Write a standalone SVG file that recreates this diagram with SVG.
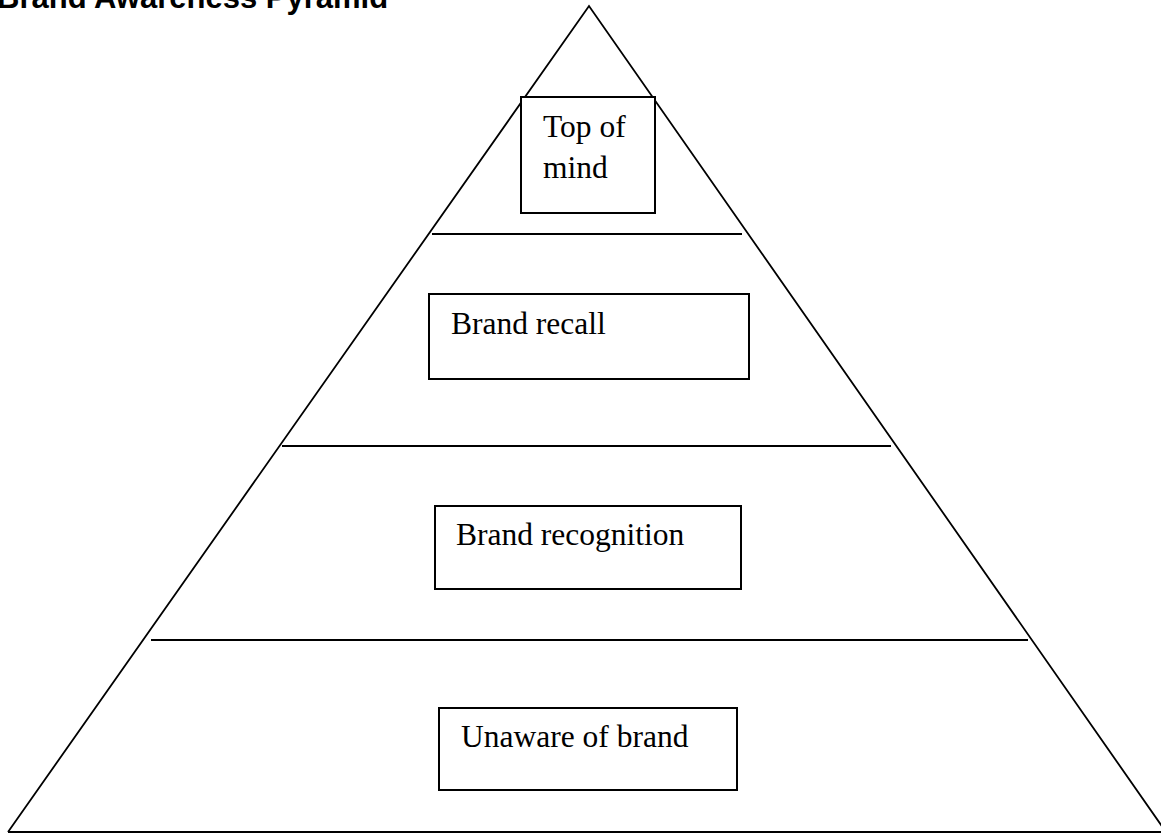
<svg xmlns="http://www.w3.org/2000/svg" width="1161" height="834" viewBox="0 0 1161 834">
<style>
.ln{stroke:#000;stroke-width:1.8;fill:none}
.bx{stroke:#000;stroke-width:2;fill:#fff}
.lb{font-family:"Liberation Serif","Times New Roman",serif;font-size:31.5px;fill:#000}
.tt{font-family:"Liberation Sans",Arial,sans-serif;font-size:31px;font-weight:bold;fill:#000}
</style>
<rect width="1161" height="834" fill="#fff"/>
<text class="tt" x="-3" y="8">Brand Awareness Pyramid</text>
<g id="pyramid">
<polyline class="ln" points="8,832 589,6 1166,832"/>
<line class="ln" x1="8" y1="832" x2="1161" y2="832"/>
</g>
<g id="connectors">
<line class="ln" x1="432" y1="234" x2="742" y2="234"/>
<line class="ln" x1="282" y1="446" x2="891" y2="446"/>
<line class="ln" x1="151" y1="640" x2="1028" y2="640"/>
</g>
<g id="top-of-mind">
<rect class="bx" x="521" y="97" width="134" height="116"/>
<text class="lb" x="543" y="137">Top of</text>
<text class="lb" x="543" y="178">mind</text>
</g>
<g id="brand-recall">
<rect class="bx" x="429" y="294" width="320" height="85"/>
<text class="lb" x="451" y="334">Brand recall</text>
</g>
<g id="brand-recognition">
<rect class="bx" x="435" y="506" width="306" height="83"/>
<text class="lb" x="456" y="545">Brand recognition</text>
</g>
<g id="unaware">
<rect class="bx" x="439" y="708" width="298" height="82"/>
<text class="lb" x="461" y="747">Unaware of brand</text>
</g>
</svg>
